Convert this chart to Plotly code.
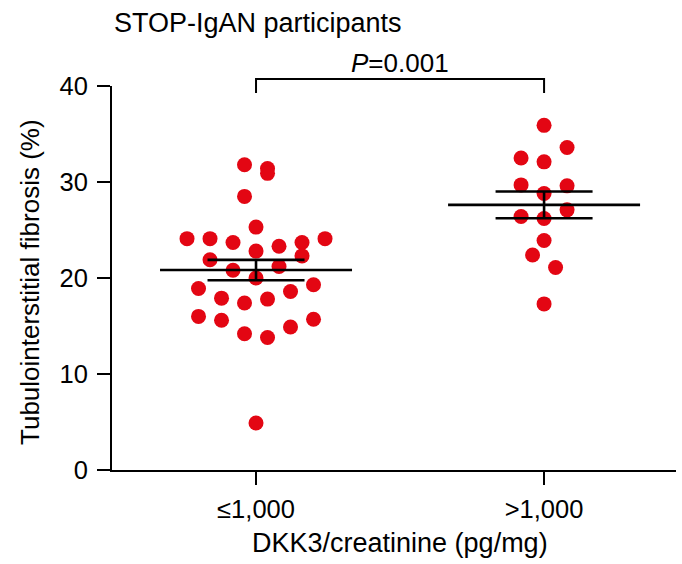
import numpy as np
import plotly.graph_objects as go

# ---------------- data ----------------
categories = ["≤1,000", ">1,000"]
# values listed row by row (top to bottom) in the order they were entered
low_dkk3 = [31.8, 31.4,
            28.5, 30.9,
            25.3,
            22.8, 23.7, 23.3, 24.1, 23.7, 24.1, 24.1,
            20.0, 20.8, 21.2, 21.9, 22.3,
            17.4, 17.8, 17.9, 18.6, 18.9, 19.3,
            14.2, 13.8, 15.6, 14.9, 16.0, 15.7,
            4.9]
high_dkk3 = [35.9,
             32.1, 32.5, 33.6,
             28.8, 29.7, 29.6,
             26.2, 26.4, 27.1,
             23.9,
             22.4, 21.1,
             17.3]
y_tick_values = [0, 10, 20, 30, 40]
chart_title = "STOP-IgAN participants"
p_text = "<i>P</i>=0.001"
x_title = "DKK3/creatinine (pg/mg)"
y_title = "Tubulointerstitial fibrosis (%)"

# ---------------- layout geometry ----------------
W, H = 682, 564
ML, MR, MT, MB = 112, 6, 86, 94
XR = [-0.5, 1.458]
YR = [0, 40]
plot_w = W - ML - MR
plot_h = H - MT - MB
xpx = plot_w / (XR[1] - XR[0])
ypx = plot_h / (YR[1] - YR[0])

RED = "#E30613"
FONT = "Liberation Sans, Arial, Helvetica, sans-serif"
FS_TICK = 25.5
FS_TITLE = 27
DOT = 15

# scatter-dot-plot layout (rows of points, spread sideways)
ROW_ANCHOR = 22.42
ROW_HEIGHT = 2.876
SLOT_PX = 23.0


def row_offsets(vals):
    vals = np.asarray(vals, dtype=float)
    rows = np.floor((vals - ROW_ANCHOR) / ROW_HEIGHT).astype(int)
    offs = np.zeros(len(vals))
    for r in np.unique(rows):
        idx = np.where(rows == r)[0]
        n = len(idx)
        if n % 2 == 1:
            slots = [0.0]
            k = 1
            while len(slots) < n:
                slots += [-k, k]
                k += 1
        else:
            slots = []
            k = 0.5
            while len(slots) < n:
                slots += [-k, k]
                k += 1
        for j, i in enumerate(idx):
            offs[i] = slots[j] * SLOT_PX / xpx
    return offs


fig = go.Figure()
groups = [low_dkk3, high_dkk3]
mean_half = 96 / xpx
sem_half = 48.5 / xpx

for gi, vals in enumerate(groups):
    v = np.asarray(vals, dtype=float)
    xs = gi + row_offsets(v)
    fig.add_trace(go.Scatter(
        x=xs, y=v, mode="markers",
        marker=dict(size=DOT, color=RED, line=dict(width=0)),
        showlegend=False, hoverinfo="y", cliponaxis=False))

for gi, vals in enumerate(groups):
    v = np.asarray(vals, dtype=float)
    m = v.mean()
    s = v.std(ddof=1) / np.sqrt(len(v))
    lx = [gi - mean_half, gi + mean_half, None,
          gi - sem_half, gi + sem_half, None,
          gi - sem_half, gi + sem_half, None,
          gi, gi]
    ly = [m, m, None, m + s, m + s, None, m - s, m - s, None, m - s, m + s]
    fig.add_trace(go.Scatter(
        x=lx, y=ly, mode="lines",
        line=dict(color="black", width=2.6),
        showlegend=False, hoverinfo="skip"))


def px_x(d):
    return (d - XR[0]) / (XR[1] - XR[0])


def py_paper(ypix):
    return (H - MB - ypix) / plot_h


# significance bracket
bx0, bx1 = px_x(0), px_x(1)
btop, bbot = py_paper(79), py_paper(93)
fig.add_shape(type="path", xref="paper", yref="paper",
              path=f"M {bx0} {bbot} L {bx0} {btop} L {bx1} {btop} L {bx1} {bbot}",
              line=dict(color="black", width=2))

fig.add_annotation(x=px_x(0.5), y=py_paper(63), xref="paper", yref="paper",
                   text=p_text, showarrow=False, xanchor="center", yanchor="middle",
                   font=dict(size=26, color="black", family=FONT))
fig.add_annotation(x=0, y=py_paper(23), xref="paper", yref="paper",
                   text=chart_title, showarrow=False, xanchor="left", yanchor="middle",
                   font=dict(size=FS_TITLE, color="black", family=FONT))
fig.add_annotation(x=(30 - ML) / plot_w, y=py_paper(282), xref="paper", yref="paper",
                   text=y_title, showarrow=False, textangle=-90,
                   xanchor="center", yanchor="middle",
                   font=dict(size=26, color="black", family=FONT))
fig.add_annotation(x=px_x(0.5), y=py_paper(543), xref="paper", yref="paper",
                   text=x_title, showarrow=False, xanchor="center", yanchor="middle",
                   font=dict(size=FS_TITLE, color="black", family=FONT))

fig.update_layout(
    width=W, height=H,
    margin=dict(l=ML, r=MR, t=MT, b=MB, pad=0),
    paper_bgcolor="white", plot_bgcolor="white",
    font=dict(family=FONT, size=FS_TICK, color="black"),
    xaxis=dict(range=XR, tickmode="array", tickvals=[0, 1], ticktext=categories,
               showgrid=False, zeroline=False, showline=True, linecolor="black",
               linewidth=2, ticks="outside", ticklen=13, tickwidth=2,
               tickcolor="black", tickfont=dict(size=FS_TICK, family=FONT),
               ticklabelstandoff=2),
    yaxis=dict(range=YR, tickmode="array", tickvals=y_tick_values,
               showgrid=False, zeroline=False, showline=True, linecolor="black",
               linewidth=2, ticks="outside", ticklen=13, tickwidth=2,
               tickcolor="black", tickfont=dict(size=FS_TICK, family=FONT),
               ticklabelstandoff=4),
)

fig.write_html("out.html",
               config={"displayModeBar": False},
               post_script="document.body.style.margin='0px';"
                           "document.body.style.padding='0px';")
